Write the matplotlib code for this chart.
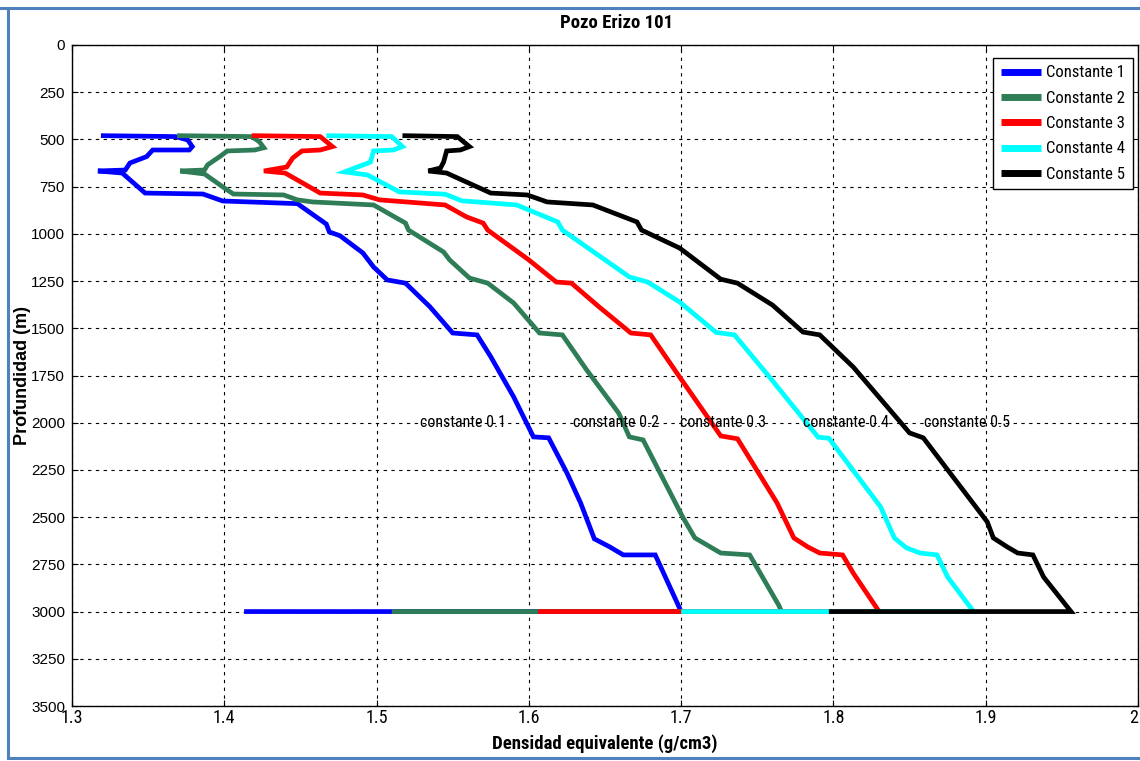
import matplotlib
matplotlib.use("Agg")
import matplotlib.pyplot as plt
from matplotlib.lines import Line2D

# ---- data: equivalent density (g/cm3) vs depth (m) for each constant ----
dens_c1 = [1.319, 1.368, 1.376, 1.379, 1.377, 1.353, 1.349, 1.338, 1.335, 1.317, 1.333,
           1.348, 1.386, 1.399, 1.448, 1.467, 1.469, 1.476, 1.491, 1.498, 1.507, 1.519,
           1.535, 1.550, 1.566, 1.575, 1.590, 1.603, 1.613, 1.625, 1.634, 1.643, 1.653,
           1.662, 1.683, 1.700, 1.413]
depth_c1 = [480, 485, 503, 538, 556, 556, 591, 625, 662, 667, 678,
            784, 789, 826, 840, 948, 990, 1010, 1101, 1175, 1244, 1261,
            1386, 1525, 1535, 1651, 1863, 2075, 2080, 2266, 2425, 2615, 2657,
            2700, 2700, 3000, 3000]

dens_c2 = [1.369, 1.418, 1.423, 1.426, 1.420, 1.402, 1.397, 1.389, 1.387, 1.371, 1.387,
           1.402, 1.406, 1.439, 1.448, 1.458, 1.498, 1.519, 1.521, 1.544, 1.548, 1.561,
           1.573, 1.590, 1.607, 1.622, 1.638, 1.659, 1.666, 1.675, 1.701, 1.709, 1.726,
           1.745, 1.764, 1.766, 1.510]
depth_c2 = [480, 485, 512, 544, 556, 561, 591, 635, 662, 667, 683,
            768, 789, 794, 820, 831, 847, 943, 980, 1096, 1138, 1234,
            1261, 1366, 1525, 1535, 1721, 1949, 2075, 2091, 2499, 2610, 2690,
            2700, 2965, 3000, 3000]

dens_c3 = [1.418, 1.463, 1.471, 1.463, 1.451, 1.445, 1.441, 1.426, 1.440, 1.463, 1.491,
           1.502, 1.545, 1.559, 1.570, 1.573, 1.600, 1.618, 1.628, 1.646, 1.667, 1.680,
           1.699, 1.726, 1.737, 1.763, 1.774, 1.783, 1.791, 1.806, 1.813, 1.830, 1.606]
depth_c3 = [480, 485, 538, 556, 561, 598, 646, 667, 678, 784, 794,
            820, 847, 910, 943, 980, 1138, 1255, 1261, 1386, 1525, 1535,
            1758, 2070, 2085, 2425, 2610, 2657, 2690, 2700, 2796, 3000, 3000]

dens_c4 = [1.467, 1.510, 1.517, 1.511, 1.498, 1.496, 1.479, 1.494, 1.515, 1.545, 1.556,
           1.592, 1.619, 1.622, 1.666, 1.678, 1.699, 1.723, 1.735, 1.758, 1.790, 1.797,
           1.831, 1.840, 1.848, 1.857, 1.868, 1.875, 1.892, 1.700]
depth_c4 = [480, 485, 538, 556, 561, 620, 672, 688, 778, 790, 825,
            847, 937, 980, 1228, 1255, 1361, 1522, 1535, 1758, 2077, 2082,
            2446, 2610, 2663, 2690, 2700, 2817, 3000, 3000]

dens_c5 = [1.517, 1.553, 1.561, 1.555, 1.546, 1.544, 1.542, 1.534, 1.546, 1.575, 1.599,
           1.612, 1.642, 1.671, 1.674, 1.699, 1.726, 1.737, 1.760, 1.780, 1.791, 1.813,
           1.850, 1.859, 1.901, 1.905, 1.914, 1.921, 1.931, 1.938, 1.956, 1.797]
depth_c5 = [480, 485, 538, 556, 561, 620, 651, 667, 678, 784, 794,
            831, 847, 937, 980, 1075, 1240, 1261, 1377, 1520, 1535, 1705,
            2054, 2080, 2525, 2610, 2657, 2690, 2700, 2817, 3000, 3000]

series_names = ["Constante 1", "Constante 2", "Constante 3", "Constante 4", "Constante 5"]
series_colors = ["#0000FF", "#2E7D57", "#FF0000", "#00FFFF", "#000000"]

note_labels = ["constante 0.1", "constante 0.2", "constante 0.3", "constante 0.4", "constante 0.5"]
note_x = [1.5285, 1.629, 1.699, 1.780, 1.8594]
note_depth = 2000

x_ticks = [1.3, 1.4, 1.5, 1.6, 1.7, 1.8, 1.9, 2.0]
x_tick_labels = ["1.3", "1.4", "1.5", "1.6", "1.7", "1.8", "1.9", "2"]
y_ticks = list(range(0, 3501, 250))

NARROW = ["Roboto Condensed", "Barlow Semi Condensed", "Liberation Sans", "DejaVu Sans"]
REGULAR = ["Liberation Sans", "DejaVu Sans"]

plt.rcParams["font.family"] = REGULAR

W, H = 1140, 761
fig = plt.figure(figsize=(W / 100, H / 100), dpi=100)
fig.patch.set_facecolor("white")
ax = fig.add_axes([72 / W, 1 - 706 / H, 1066 / W, 661 / H])

curves = [(dens_c1, depth_c1), (dens_c2, depth_c2), (dens_c3, depth_c3),
          (dens_c4, depth_c4), (dens_c5, depth_c5)]
for (xs, ys), name, col in zip(curves, series_names, series_colors):
    ax.plot(xs, ys, color=col, lw=3.4, label=name, solid_joinstyle="miter",
            solid_capstyle="butt")

for txt, xv in zip(note_labels, note_x):
    ax.text(xv, note_depth, txt, ha="left", va="center", fontsize=11.5,
            family=NARROW, color="black")

ax.set_xlim(1.3, 2.0)
ax.set_ylim(3500, 0)
ax.set_xticks(x_ticks)
ax.set_xticklabels(x_tick_labels, family=NARROW, fontsize=13)
ax.get_xticklabels()[-1].set_horizontalalignment("right")
ax.set_yticks(y_ticks)
ax.set_yticklabels([str(v) for v in y_ticks], fontsize=11)
ax.tick_params(direction="in", length=4, width=0.8, top=True, right=True, pad=5)
ax.tick_params(axis="x", pad=2)

ax.grid(True, color="black", linestyle=(0, (3, 4)), linewidth=0.8)
for sp in ax.spines.values():
    sp.set_linewidth(1.0)
    sp.set_color("black")

ax.set_title("Pozo Erizo 101", fontsize=13.5, fontweight="bold", family=NARROW, pad=12,
             x=(617 - 72) / 1066)
ax.set_xlabel("Densidad equivalente (g/cm3)", fontsize=13.5, fontweight="bold",
              family=NARROW, labelpad=5)
ax.set_ylabel("Profundidad (m)", fontsize=13, fontweight="bold")
ax.yaxis.set_label_coords(-0.038, 0.5)

leg = ax.legend(loc="upper right", bbox_to_anchor=((1133 - 72) / 1066, 1 - (58 - 45) / 661),
                borderaxespad=0, prop={"family": NARROW, "size": 12},
                frameon=True, fancybox=False, edgecolor="black", framealpha=1,
                handlelength=2.4, handletextpad=0.35, borderpad=0.45, labelspacing=0.62)
leg.get_frame().set_linewidth(1.0)
for h in leg.get_lines():
    h.set_linewidth(5)

# frame around the figure window
frame_col = "#4F81BD"
fig.add_artist(Line2D([0, 1], [1 - 8 / H, 1 - 8 / H], color=frame_col, lw=2.2,
                      transform=fig.transFigure))
fig.add_artist(Line2D([8 / W, 8 / W], [1 - 8 / H, 1 - 758 / H], color=frame_col,
                      lw=2.2, transform=fig.transFigure))
fig.add_artist(Line2D([8 / W, 1], [1 - 758 / H, 1 - 758 / H], color=frame_col,
                      lw=2.2, transform=fig.transFigure))

fig.savefig("out.png", dpi=100)
